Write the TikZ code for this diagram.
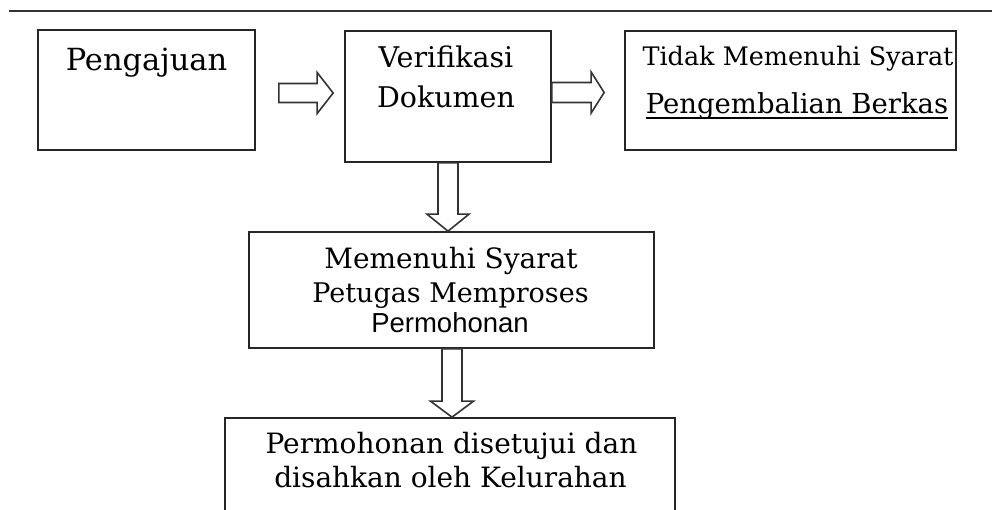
\documentclass[tikz,border=0pt]{standalone}
\usepackage{fontspec}
\setmainfont{DejaVu Serif}
\newfontfamily\plainsans{Liberation Sans}
\usetikzlibrary{calc}
% horizontal block arrow: tail, tip, shaft half width, head half width, head length
\newcommand\myhar[5]{\draw[barrow] ($(#1)+(0,-#3)$) -- ($(#2)+(-#5,-#3)$) -- ($(#2)+(-#5,-#4)$) -- (#2) -- ($(#2)+(-#5,#4)$) -- ($(#2)+(-#5,#3)$) -- ($(#1)+(0,#3)$) -- cycle;}
% vertical block arrow (downwards)
\newcommand\myvar[5]{\draw[barrow] ($(#1)+(-#3,0)$) -- ($(#2)+(-#3,-#5)$) -- ($(#2)+(-#4,-#5)$) -- (#2) -- ($(#2)+(#4,-#5)$) -- ($(#2)+(#3,-#5)$) -- ($(#1)+(#3,0)$) -- cycle;}
\begin{document}
\begin{tikzpicture}[x=1pt,y=-1pt,
  box/.style={draw=black!85, line width=1.7pt, inner sep=0pt, anchor=center},
  barrow/.style={draw=black!80, line width=1.6pt, fill=white, line join=miter},
  txt/.style={inner sep=0pt, anchor=base, text=black},
  mid/.style={font=\fontsize{28}{32}\selectfont}]
\clip (0,0) rectangle (992,509);
\fill[white] (0,0) rectangle (992,509);
% top rule
\coordinate (ruleL) at (9,11);
\coordinate (ruleR) at (992,11);
\draw[black!80, line width=1.6pt] (ruleL) -- (ruleR);
% boxes
\node[box, minimum width=217pt, minimum height=120pt] (peng) at (146.5,90) {};
\node[box, minimum width=206pt, minimum height=131pt] (ver) at (448,96.5) {};
\node[box, minimum width=331pt, minimum height=119pt] (tid) at (790.5,90.5) {};
\node[box, minimum width=405pt, minimum height=116pt] (mem) at (451.5,290) {};
\node[box, minimum width=450pt, minimum height=114pt] (perm) at (450,475) {};
% arrows
\coordinate (a1t) at ($(peng.east)+(23,3)$);
\coordinate (a1p) at ($(ver.west)+(-11,-3.5)$);
\myhar{a1t}{a1p}{9.5}{20.5}{16}
\coordinate (a2t) at ($(ver.east)+(0,-4)$);
\coordinate (a2p) at ($(tid.west)+(-20,2)$);
\myhar{a2t}{a2p}{10}{20.5}{13}
\coordinate (a3t) at (ver.south);
\coordinate (a3p) at ($(mem.north)+(-3.5,0)$);
\myvar{a3t}{a3p}{10}{21}{17}
\coordinate (a4t) at ($(mem.south)+(0.5,0)$);
\coordinate (a4p) at ($(perm.north)+(2,0)$);
\myvar{a4t}{a4p}{10}{21.5}{16}
% texts
\node[txt, font=\fontsize{30.5}{34}\selectfont] (t1) at (146.5,70) {Pengajuan};
\node[txt, font=\fontsize{28.5}{32}\selectfont] (t2) at (446,67) {Verifikasi};
\node[txt, font=\fontsize{28.5}{32}\selectfont] (t3) at (446,107) {Dokumen};
\node[txt, font=\fontsize{25.5}{29}\selectfont] (t4) at (798,65) {Tidak Memenuhi Syarat};
\node[txt, font=\fontsize{27.5}{31}\selectfont] (t5) at (797,113) {Pengembalian Berkas};
\draw[black, line width=1.3pt] ($(t5.base west)+(0,5)$) -- ($(t5.base east)+(0,5)$);
\node[txt, mid] (t6) at (451,268) {Memenuhi Syarat};
\node[txt, font=\fontsize{27}{31}\selectfont] (t7) at (450.5,302) {Petugas Memproses};
\node[txt, font=\plainsans\fontsize{27.5}{31}\selectfont] (t8) at (450,332) {Permohonan};
\node[txt, mid] (t9) at (451.5,453) {Permohonan disetujui dan};
\node[txt, mid] (t10) at (450.5,487) {disahkan oleh Kelurahan};
\end{tikzpicture}
\end{document}
